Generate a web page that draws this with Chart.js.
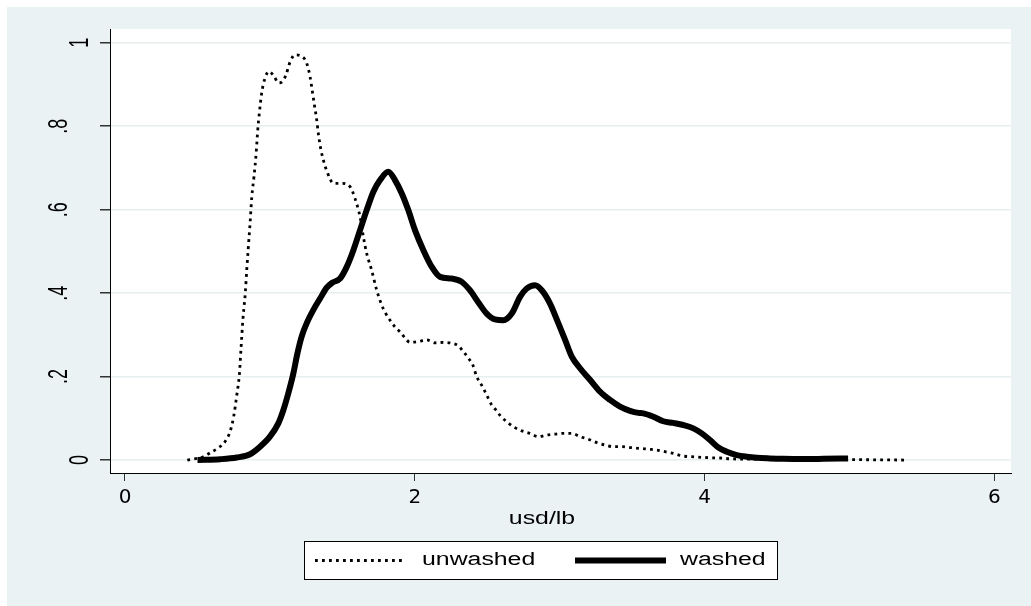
<!DOCTYPE html>
<html>
<head>
<meta charset="utf-8">
<script src="https://cdn.jsdelivr.net/npm/chart.js@4.4.1/dist/chart.umd.min.js"></script>
<style>
  html, body { margin: 0; padding: 0; background: #fff; }
  #wrap { width: 1031px; height: 606px; position: relative; }
</style>
</head>
<body>
<div id="wrap"><canvas id="densityChart"></canvas></div>
<script>
// axis ticks
const xTicks = [0, 2, 4, 6];
const yTicks = [0, 0.2, 0.4, 0.6, 0.8, 1];
const yTickLabels = ['0', '.2', '.4', '.6', '.8', '1'];
const xTitle = 'usd/lb';
const seriesNames = ['unwashed', 'washed'];

// kernel density, unwashed coffee price (usd/lb)
const unwashedX = [0.43, 0.54, 0.60, 0.64, 0.69, 0.725, 0.75, 0.77, 0.79, 0.80, 0.815, 0.83, 0.84, 0.85, 0.863,
  0.875, 0.89, 0.905, 0.916, 0.927, 0.943, 0.966, 0.994, 1.03, 1.058, 1.088, 1.111, 1.139, 1.173, 1.226,
  1.254, 1.277, 1.293, 1.307, 1.323, 1.334, 1.35, 1.369, 1.39, 1.44, 1.495, 1.553, 1.587, 1.622, 1.645,
  1.668, 1.702, 1.737, 1.772, 1.80, 1.829, 1.863, 1.898, 1.932, 1.967, 2.024, 2.082, 2.139, 2.197, 2.254,
  2.30, 2.335, 2.37, 2.40, 2.427, 2.46, 2.484, 2.507, 2.53, 2.56, 2.593, 2.634, 2.68, 2.738, 2.795,
  2.852, 2.91, 2.968, 3.025, 3.083, 3.14, 3.197, 3.255, 3.313, 3.37, 3.43, 3.485, 3.554, 3.61, 3.67,
  3.727, 3.784, 3.842, 3.91, 3.98, 4.05, 4.106, 4.175, 4.244, 4.4, 4.6, 4.8, 5.0, 5.2, 5.4];
const unwashedY = [0, 0.008, 0.02, 0.028, 0.044, 0.068, 0.104, 0.152, 0.208, 0.264, 0.343, 0.40, 0.455, 0.505, 0.567,
  0.631, 0.679, 0.735, 0.791, 0.831, 0.879, 0.915, 0.931, 0.919, 0.904, 0.908, 0.923, 0.954, 0.971, 0.966,
  0.951, 0.919, 0.883, 0.851, 0.815, 0.783, 0.747, 0.719, 0.695, 0.663, 0.663, 0.655, 0.627, 0.583, 0.535,
  0.495, 0.455, 0.407, 0.371, 0.351, 0.335, 0.319, 0.307, 0.293, 0.282, 0.284, 0.288, 0.281, 0.282, 0.280,
  0.274, 0.26, 0.244, 0.228, 0.20, 0.18, 0.164, 0.148, 0.132, 0.12, 0.105, 0.092, 0.08, 0.07, 0.064,
  0.056, 0.06, 0.062, 0.064, 0.064, 0.056, 0.05, 0.042, 0.036, 0.032, 0.032, 0.030, 0.028, 0.026, 0.024,
  0.02, 0.016, 0.010, 0.008, 0.0065, 0.0055, 0.005, 0.003, 0.0024, 0.002, 0.001, 0.001, 0.001, 0.0005, 0];

// kernel density, washed coffee price (usd/lb)
const washedX = [0.5, 0.656, 0.771, 0.863, 0.932, 1.0, 1.058, 1.093, 1.127, 1.162, 1.19, 1.219, 1.254, 1.30,
  1.346, 1.392, 1.43, 1.484, 1.53, 1.576, 1.622, 1.668, 1.714, 1.76, 1.817, 1.863, 1.91, 1.955, 2.001,
  2.059, 2.117, 2.174, 2.254, 2.324, 2.38, 2.44, 2.496, 2.553, 2.611, 2.669, 2.726, 2.772, 2.83, 2.876,
  2.933, 2.99, 3.037, 3.083, 3.14, 3.21, 3.278, 3.347, 3.416, 3.485, 3.543, 3.577, 3.646, 3.715, 3.784,
  3.853, 3.922, 3.98, 4.037, 4.095, 4.153, 4.222, 4.29, 4.36, 4.45, 4.54, 4.68, 4.82, 4.99];
const washedY = [0, 0.002, 0.006, 0.014, 0.032, 0.056, 0.088, 0.12, 0.16, 0.208, 0.256, 0.296, 0.328, 0.36,
  0.387, 0.413, 0.425, 0.435, 0.463, 0.503, 0.551, 0.599, 0.643, 0.671, 0.691, 0.671, 0.639, 0.599, 0.551,
  0.503, 0.463, 0.439, 0.435, 0.427, 0.407, 0.377, 0.351, 0.337, 0.335, 0.351, 0.391, 0.411, 0.419, 0.407,
  0.375, 0.328, 0.288, 0.248, 0.22, 0.192, 0.164, 0.144, 0.128, 0.118, 0.113, 0.112, 0.104, 0.093, 0.089,
  0.084, 0.076, 0.064, 0.048, 0.030, 0.020, 0.012, 0.008, 0.0055, 0.004, 0.003, 0.0024, 0.003, 0.004];

const toPoints = (xs, ys) => xs.map((x, i) => ({ x: x, y: ys[i] }));

const TICK_FONT = '"DejaVu Sans", sans-serif';
const TEXT_FONT = '18px "Liberation Sans", Arial, sans-serif';
const WIDE = 1.38;   // horizontal stretch of the Stata-style lettering
const PAGE_BG = '#EAF2F3';

// draws text widened along the x direction, anchored at (x, y)
function wideText(ctx, text, x, y, align) {
    const w = ctx.measureText(text).width * WIDE;
    let x0 = x;
    if (align === 'center') x0 = x - w / 2;
    ctx.save();
    ctx.translate(x0, y);
    ctx.scale(WIDE, 1);
    ctx.textAlign = 'left';
    ctx.fillText(text, 0, 0);
    ctx.restore();
}

// page backdrop: bluish frame, white plot region
const backdrop = {
    id: 'backdrop',
    beforeDraw(chart) {
        const { ctx, width, height, chartArea } = chart;
        ctx.save();
        ctx.fillStyle = '#fff';
        ctx.fillRect(0, 0, width, height);
        ctx.fillStyle = PAGE_BG;
        ctx.fillRect(7, 7, width - 7, height - 7);
        ctx.fillStyle = '#fff';
        ctx.fillRect(chartArea.left, chartArea.top, chartArea.right - chartArea.left, chartArea.bottom - chartArea.top);
        ctx.restore();
    }
};

// vertical y labels; decimal labels sit further from the axis
const yLabels = {
    id: 'yLabels',
    afterDraw(chart) {
        const scale = chart.scales.y;
        const ctx = chart.ctx;
        ctx.save();
        ctx.font = TEXT_FONT;
        ctx.fillStyle = '#000';
        ctx.textAlign = 'center';
        ctx.textBaseline = 'alphabetic';
        yTicks.forEach((v, i) => {
            const label = yTickLabels[i];
            const cx = label.charAt(0) === '.' ? 57 : 78;
            ctx.save();
            ctx.translate(cx, scale.getPixelForValue(v));
            ctx.rotate(-Math.PI / 2);
            ctx.scale(1, 1.5);
            ctx.fillText(label, 0, 6.5);
            ctx.restore();
        });
        ctx.restore();
    }
};

// axis title and boxed legend underneath the plot
const legendBox = {
    id: 'legendBox',
    afterDraw(chart) {
        const ctx = chart.ctx;
        const cy = 560.5;
        const slots = [[315, 403, 422], [575, 666, 680]];
        ctx.save();
        ctx.font = TEXT_FONT;
        ctx.fillStyle = '#000';
        ctx.textBaseline = 'middle';
        wideText(ctx, xTitle, 542, 519, 'center');

        ctx.fillStyle = '#fff';
        ctx.fillRect(304.5, 541.5, 473, 38);
        ctx.strokeStyle = '#000';
        ctx.lineWidth = 1;
        ctx.strokeRect(304.5, 541.5, 473, 38);
        chart.data.datasets.forEach((ds, i) => {
            const [x0, x1, tx] = slots[i];
            ctx.beginPath();
            ctx.setLineDash(ds.borderDash || []);
            ctx.lineWidth = ds.borderWidth;
            ctx.strokeStyle = ds.borderColor;
            ctx.moveTo(x0, cy);
            ctx.lineTo(x1, cy);
            ctx.stroke();
            ctx.setLineDash([]);
            ctx.fillStyle = '#000';
            wideText(ctx, ds.label, tx, cy, 'left');
        });
        ctx.restore();
    }
};

document.addEventListener('DOMContentLoaded', () => {
    new Chart(document.getElementById('densityChart'), {
        type: 'scatter',
        data: {
            datasets: [{
                label: seriesNames[0],
                data: toPoints(unwashedX, unwashedY),
                showLine: true,
                borderColor: '#000',
                borderWidth: 2.8,
                borderDash: [2.8, 4.2],
                pointRadius: 0,
                cubicInterpolationMode: 'monotone'
            }, {
                label: seriesNames[1],
                data: toPoints(washedX, washedY),
                showLine: true,
                borderColor: '#000',
                borderWidth: 6,
                borderJoinStyle: 'round',
                pointRadius: 0,
                cubicInterpolationMode: 'monotone'
            }]
        },
        options: {
            responsive: true,
            maintainAspectRatio: false,
            animation: false,
            layout: { padding: { left: 7, right: 20, top: 29, bottom: 0 } },
            plugins: {
                legend: { display: false },
                tooltip: { enabled: false }
            },
            scales: {
                x: {
                    type: 'linear',
                    min: -0.1035,
                    max: 6.114,
                    afterBuildTicks: (s) => { s.ticks = xTicks.map(v => ({ value: v })); },
                    afterFit: (s) => { s.height = 133; },
                    grid: { drawOnChartArea: false, tickLength: 8, tickColor: '#333' },
                    border: { color: '#000', width: 1 },
                    ticks: { font: { family: TICK_FONT, size: 20 }, color: '#000', padding: 5, maxRotation: 0 }
                },
                y: {
                    min: -0.031,
                    max: 1.033,
                    afterBuildTicks: (s) => { s.ticks = yTicks.map(v => ({ value: v })); },
                    afterFit: (s) => { s.width = 103; },
                    grid: { color: '#E6EEF0', lineWidth: 1.5, tickLength: 10, tickColor: '#333' },
                    border: { color: '#000', width: 1 },
                    ticks: { display: false }
                }
            }
        },
        plugins: [backdrop, yLabels, legendBox]
    });
});
</script>
</body>
</html>
